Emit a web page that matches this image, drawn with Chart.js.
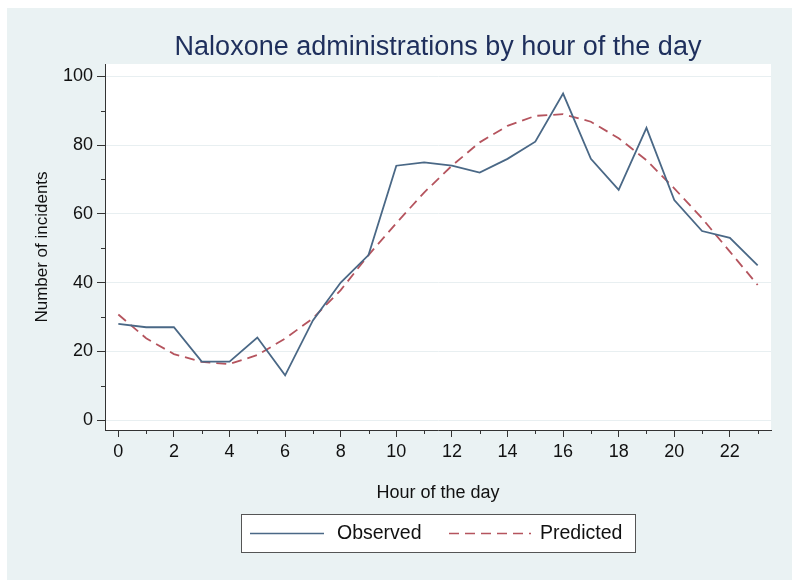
<!DOCTYPE html>
<html>
<head>
<meta charset="utf-8">
<script src="https://cdn.jsdelivr.net/npm/chart.js@4.4.0/dist/chart.umd.min.js"></script>
<style>
  html, body { margin: 0; padding: 0; background: #fff; }
</style>
</head>
<body>
<canvas id="lineChart" width="800" height="586"></canvas>
<script>
var HOURS = [0, 1, 2, 3, 4, 5, 6, 7, 8, 9, 10, 11, 12, 13, 14, 15, 16, 17, 18, 19, 20, 21, 22, 23];
var OBSERVED = [28, 27, 27, 17, 17, 24, 13, 29, 40, 48, 74, 75, 74, 72, 76, 81, 95, 76, 67, 85, 64, 55, 53, 45];
var PREDICTED = [30.7, 23.8, 19.2, 16.9, 16.3, 18.9, 23.7, 29.6, 37.8, 48, 57.3, 66.2, 74, 80.8, 85.6, 88.5, 89, 86.8, 82, 75.6, 67.4, 58.7, 49, 39.3];
var Y_TICKS = [0, 10, 20, 30, 40, 50, 60, 70, 80, 90, 100];
var SERIES_NAMES = ['Observed', 'Predicted'];

var TITLE = 'Naloxone administrations by hour of the day';
var FONT = '"Liberation Sans", Arial, sans-serif';
Chart.defaults.font.family = FONT;

function points(ys) {
    return HOURS.map(function (h, i) { return { x: h, y: ys[i] }; });
}

function isMajorX(v) { return v % 2 === 0; }
function isMajorY(v) { return v % 20 === 0; }

// Stata-ish frame: light background, white plot, title, short minor ticks, boxed legend
var decor = {
    id: 'decor',
    beforeDraw: function (chart) {
        var ctx = chart.ctx, a = chart.chartArea;
        ctx.save();
        ctx.fillStyle = '#eaf2f3';
        ctx.fillRect(7, 8, 785, 572);
        ctx.fillStyle = '#ffffff';
        ctx.fillRect(a.left, a.top, a.right - a.left, a.bottom - a.top);
        ctx.restore();
    },
    afterDraw: function (chart) {
        var ctx = chart.ctx, a = chart.chartArea;
        var xs = chart.scales.x, ys = chart.scales.y;
        ctx.save();

        ctx.fillStyle = '#1e2f5c';
        ctx.font = '27px ' + FONT;
        ctx.textAlign = 'center';
        ctx.textBaseline = 'alphabetic';
        ctx.fillText(TITLE, (a.left + a.right) / 2, 55);

        // minor ticks
        ctx.strokeStyle = '#333';
        ctx.lineWidth = 1;
        ctx.beginPath();
        HOURS.forEach(function (h) {
            if (isMajorX(h)) return;
            var px = Math.round(xs.getPixelForValue(h)) + 0.5;
            ctx.moveTo(px, a.bottom);
            ctx.lineTo(px, a.bottom + 4);
        });
        Y_TICKS.forEach(function (v) {
            if (isMajorY(v)) return;
            var py = Math.round(ys.getPixelForValue(v)) + 0.5;
            ctx.moveTo(a.left, py);
            ctx.lineTo(a.left - 4, py);
        });
        ctx.stroke();

        // legend
        var bx = 241.5, by = 514.5, bw = 394, bh = 38;
        ctx.fillStyle = '#ffffff';
        ctx.fillRect(bx, by, bw, bh);
        ctx.strokeStyle = '#555';
        ctx.strokeRect(bx, by, bw, bh);
        var items = [
            { x: 250, len: 74, tx: 337 },
            { x: 449, len: 82, tx: 540 }
        ];
        ctx.font = '19.5px ' + FONT;
        ctx.textAlign = 'left';
        ctx.textBaseline = 'middle';
        chart.data.datasets.forEach(function (ds, i) {
            var it = items[i];
            ctx.strokeStyle = ds.borderColor;
            ctx.lineWidth = 1.4;
            ctx.setLineDash(ds.borderDash || []);
            ctx.beginPath();
            ctx.moveTo(it.x, 533.5);
            ctx.lineTo(it.x + it.len, 533.5);
            ctx.stroke();
            ctx.setLineDash([]);
            ctx.fillStyle = '#111';
            ctx.fillText(ds.label, it.tx, 534);
        });
        ctx.restore();
    }
};

var ctx = document.getElementById('lineChart').getContext('2d');
window.myLine = new Chart(ctx, {
    type: 'line',
    data: {
        datasets: [{
            label: SERIES_NAMES[0],
            data: points(OBSERVED),
            borderColor: '#4a6886',
            borderWidth: 1.8,
            pointRadius: 0,
            tension: 0
        }, {
            label: SERIES_NAMES[1],
            data: points(PREDICTED),
            borderColor: '#b5545e',
            borderWidth: 1.8,
            borderDash: [10, 6],
            pointRadius: 0,
            tension: 0
        }]
    },
    options: {
        responsive: false,
        animation: false,
        layout: { padding: { top: 64, right: 29, bottom: 76, left: 0 } },
        plugins: {
            legend: { display: false },
            tooltip: { enabled: false },
            title: { display: false }
        },
        scales: {
            x: {
                type: 'linear',
                min: -0.48,
                max: 23.48,
                afterBuildTicks: function (s) {
                    s.ticks = HOURS.map(function (v) { return { value: v }; });
                },
                afterFit: function (s) { s.height = 80; },
                ticks: {
                    autoSkip: false,
                    maxRotation: 0,
                    padding: 4,
                    color: '#111',
                    font: { size: 18 },
                    callback: function (v) { return isMajorX(v) ? String(v) : ''; }
                },
                grid: {
                    drawOnChartArea: false,
                    tickLength: 7,
                    tickColor: function (c) {
                        return c.tick && isMajorX(c.tick.value) ? '#333' : 'rgba(0,0,0,0)';
                    }
                },
                border: { color: '#333', width: 1 },
                title: {
                    display: true,
                    text: 'Hour of the day',
                    color: '#111',
                    font: { size: 18 },
                    padding: { top: 4, bottom: 6 }
                }
            },
            y: {
                min: -2.9,
                max: 103.6,
                afterBuildTicks: function (s) {
                    s.ticks = Y_TICKS.map(function (v) { return { value: v }; });
                },
                afterFit: function (s) { s.width = 105; },
                ticks: {
                    padding: 4,
                    color: '#111',
                    font: { size: 18 },
                    callback: function (v) { return isMajorY(v) ? String(v) : ''; }
                },
                grid: {
                    tickLength: 8,
                    color: function (c) {
                        return c.tick && isMajorY(c.tick.value) ? '#e8eff1' : 'rgba(0,0,0,0)';
                    },
                    tickColor: function (c) {
                        return c.tick && isMajorY(c.tick.value) ? '#333' : 'rgba(0,0,0,0)';
                    }
                },
                border: { color: '#333', width: 1 },
                title: {
                    display: true,
                    text: 'Number of incidents',
                    color: '#111',
                    font: { size: 17 },
                    padding: { top: 32, bottom: 0 }
                }
            }
        }
    },
    plugins: [decor]
});
</script>
</body>
</html>
